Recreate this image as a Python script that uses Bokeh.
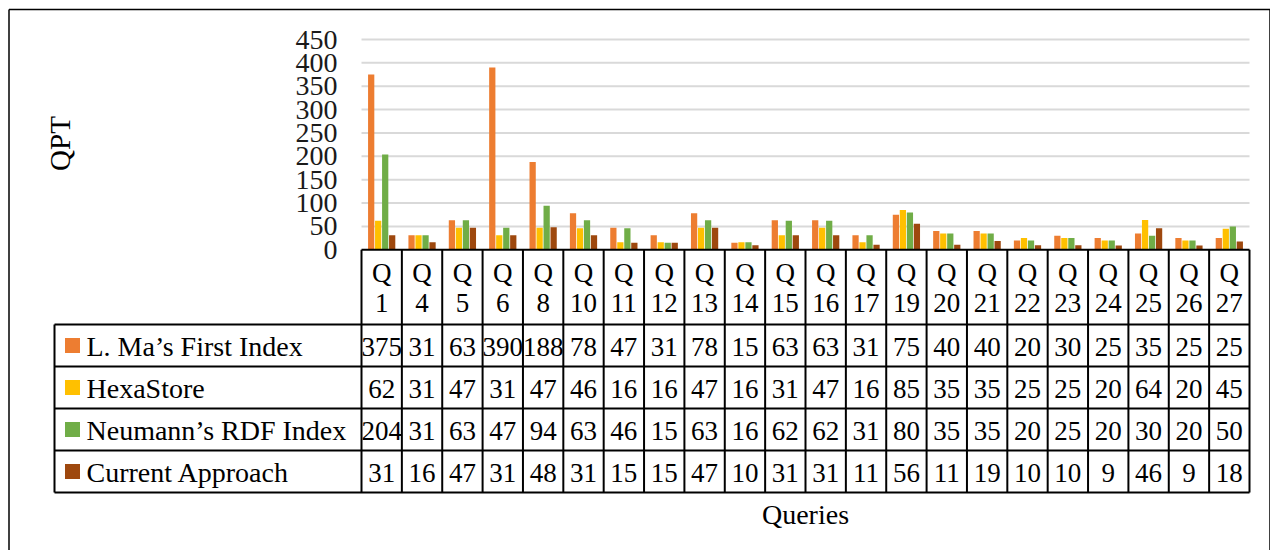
from math import pi
from bokeh.plotting import figure
from bokeh.models import Range1d
from bokeh.core.properties import value
from bokeh.embed import file_html
from bokeh.resources import INLINE

# ---------------- data ----------------
queries = ["1", "4", "5", "6", "8", "10", "11", "12", "13", "14", "15",
           "16", "17", "19", "20", "21", "22", "23", "24", "25", "26", "27"]
ma_first_index = [375, 31, 63, 390, 188, 78, 47, 31, 78, 15, 63, 63, 31, 75, 40, 40, 20, 30, 25, 35, 25, 25]
hexastore = [62, 31, 47, 31, 47, 46, 16, 16, 47, 16, 31, 47, 16, 85, 35, 35, 25, 25, 20, 64, 20, 45]
neumann_rdf_index = [204, 31, 63, 47, 94, 63, 46, 15, 63, 16, 62, 62, 31, 80, 35, 35, 20, 25, 20, 30, 20, 50]
current_approach = [31, 16, 47, 31, 48, 31, 15, 15, 47, 10, 31, 31, 11, 56, 11, 19, 10, 10, 9, 46, 9, 18]
series_names = ["L. Ma\u2019s First Index", "HexaStore", "Neumann\u2019s RDF Index", "Current Approach"]
series_values = [ma_first_index, hexastore, neumann_rdf_index, current_approach]
colors = ["#ED7D31", "#FFC000", "#70AD47", "#9E480E"]
y_ticks = [0, 50, 100, 150, 200, 250, 300, 350, 400, 450]
y_title = "QPT"
x_title = "Queries"

# ---------------- layout (pixels on the canvas) ----------------
W, H = 1270, 550
PLOT_L, PLOT_R = 361, 1249
Y0_PX, YTOP_PX = 249.3, 39.0
n = len(queries)
cat_w = (PLOT_R - PLOT_L) / n
px_per_unit = (Y0_PX - YTOP_PX) / y_ticks[-1]
TABLE_L = 54
HEADER_BOTTOM = 324
ROW_H = 42
FONT = value("Liberation Serif")

p = figure(width=W, height=H, output_backend="svg", toolbar_location=None,
           x_range=Range1d(-PLOT_L / cat_w, (W - PLOT_L) / cat_w),
           y_range=Range1d(-(H - Y0_PX) / px_per_unit, Y0_PX / px_per_unit),
           x_axis_type=None, y_axis_type=None, min_border=0)
p.extra_x_ranges = {"px": Range1d(0, W)}
p.extra_y_ranges = {"px": Range1d(H, 0)}
p.grid.visible = False
p.outline_line_color = None
p.background_fill_color = "white"
p.border_fill_color = "white"

# gridlines
for t in y_ticks[1:]:
    p.segment(x0=[0], x1=[n], y0=[t], y1=[t], line_color="#d9d9d9", line_width=2)

# bars
offsets = [-0.26, -0.087, 0.087, 0.26]
for vals, col, off in zip(series_values, colors, offsets):
    p.vbar(x=[i + 0.5 + off for i in range(n)], top=vals, bottom=0, width=0.155,
           fill_color=col, line_color=None)

# y tick labels
p.text(x=[337] * len(y_ticks), y=y_ticks, text=[str(t) for t in y_ticks],
       x_range_name="px", text_align="right", text_baseline="middle",
       text_font=FONT, text_font_size="28px", text_color="#1a1a1a")

# table lines
rows_y = [HEADER_BOTTOM + k * ROW_H for k in range(len(series_names) + 1)]
xs, ys = [], []
for y in rows_y:
    xs.append([TABLE_L, PLOT_R]); ys.append([y, y])
xs.append([PLOT_L, PLOT_R]); ys.append([Y0_PX, Y0_PX])
xs.append([TABLE_L, TABLE_L]); ys.append([HEADER_BOTTOM, rows_y[-1]])
for i in range(n + 1):
    xx = PLOT_L + i * cat_w
    xs.append([xx, xx]); ys.append([Y0_PX, rows_y[-1]])
p.multi_line(xs=xs, ys=ys, x_range_name="px", y_range_name="px",
             line_color="black", line_width=2)

# header texts
centers = [i + 0.5 for i in range(n)]
p.text(x=centers, y=[272] * n, text=["Q"] * n, y_range_name="px",
       text_align="center", text_baseline="middle", text_font=FONT,
       text_font_size="27px", text_color="black")
p.text(x=centers, y=[302] * n, text=queries, y_range_name="px",
       text_align="center", text_baseline="middle", text_font=FONT,
       text_font_size="27px", text_color="black")

# table values + legend
for k, (name, vals, col) in enumerate(zip(series_names, series_values, colors)):
    yc = HEADER_BOTTOM + k * ROW_H + ROW_H / 2
    p.text(x=centers, y=[yc + 1] * n, text=[str(v) for v in vals], y_range_name="px",
           text_align="center", text_baseline="middle", text_font=FONT,
           text_font_size="27px", text_color="black")
    p.rect(x=[72], y=[yc], width=15, height=15, x_range_name="px", y_range_name="px",
           fill_color=col, line_color=None)
    p.text(x=[86], y=[yc + 1], text=[name], x_range_name="px", y_range_name="px",
           text_align="left", text_baseline="middle", text_font=FONT,
           text_font_size="28px", text_color="black")

# axis titles
p.text(x=[59], y=[143], text=[y_title], x_range_name="px", y_range_name="px",
       angle=pi / 2, text_align="center", text_baseline="middle", text_font=FONT,
       text_font_size="29px", text_color="black")
p.text(x=[805], y=[514], text=[x_title], x_range_name="px", y_range_name="px",
       text_align="center", text_baseline="middle", text_font=FONT,
       text_font_size="28px", text_color="black")

# outer frame
p.multi_line(xs=[[8.5, 8.5], [8.5, W - 0.5], [W - 0.5, W - 0.5]],
             ys=[[H, 9], [9, 9], [9, H]], x_range_name="px", y_range_name="px",
             line_color="black", line_width=1.5)

open("out.html", "w").write(file_html(p, INLINE))
